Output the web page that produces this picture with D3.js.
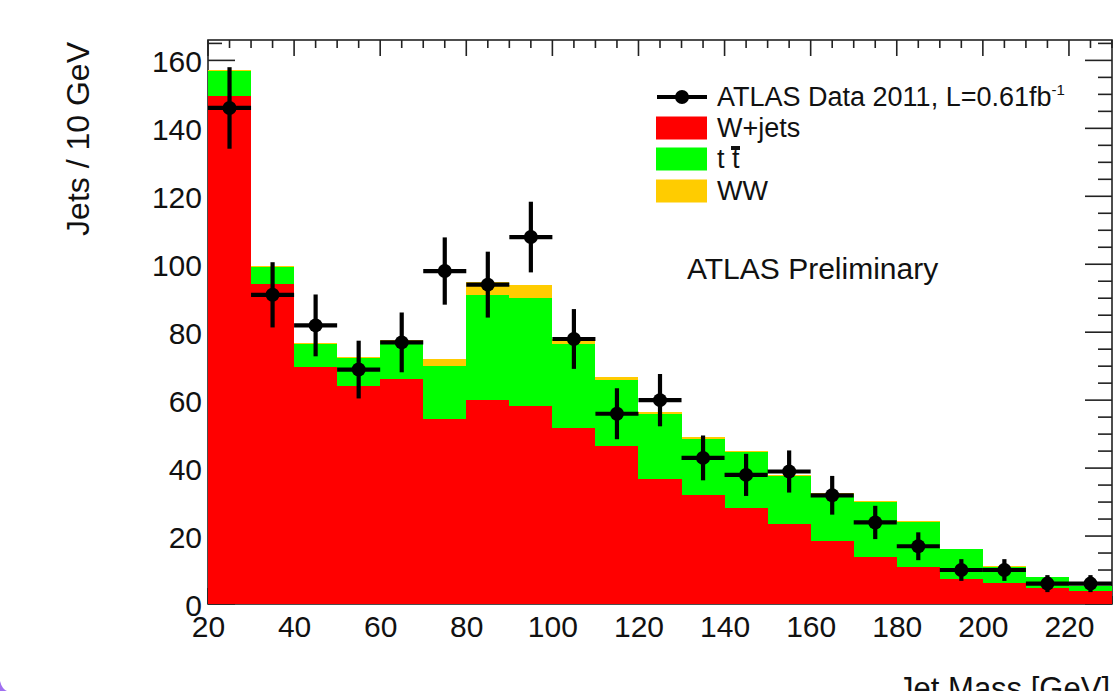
<!DOCTYPE html>
<html>
<head>
<meta charset="utf-8">
<script src="https://cdn.jsdelivr.net/npm/d3@7"></script>
<style>
  body { margin: 0; background: #fff; }
  text { font-family: "Liberation Sans", Arial, Helvetica, sans-serif; fill: #111; }
</style>
</head>
<body>
<div class="chart"></div>
<script>
// bin low edges (GeV), 10 GeV wide
var bins = [20, 30, 40, 50, 60, 70, 80, 90, 100, 110, 120, 130, 140, 150, 160, 170, 180, 190, 200, 210, 220];
var wjets = [149.4, 94.1, 69.8, 64.2, 66.3, 54.4, 59.9, 58.3, 51.7, 46.6, 36.8, 32.1, 28.3, 23.5, 18.4, 13.7, 11.0, 7.4, 6.3, 4.8, 3.9];
var ttbar = [7.5, 5.1, 6.7, 8.3, 11.1, 15.7, 31.0, 31.8, 24.8, 19.3, 19.1, 16.6, 16.3, 14.1, 14.0, 16.2, 13.2, 8.7, 4.7, 3.0, 1.4];
var ww = [0.4, 0.4, 0.2, 0.3, 0.2, 2.0, 3.8, 3.9, 1.4, 1.0, 0.5, 0.5, 0.4, 0.3, 0.2, 0.4, 0.1, 0.1, 0.1, 0.1, 0.1];
var dataVals = [146, 91, 82, 69, 77, 98, 94, 108, 78, 56, 60, 43, 38, 39, 32, 24, 17, 10, 10, 6, 6];
var dataErr = [12, 9.6, 9.1, 8.5, 8.8, 9.9, 9.7, 10.4, 8.8, 7.5, 7.7, 6.6, 6.2, 6.2, 5.7, 4.9, 4.1, 3.2, 3.2, 2.5, 2.5];
var xTicks = [20, 40, 60, 80, 100, 120, 140, 160, 180, 200, 220];
var yTicks = [0, 20, 40, 60, 80, 100, 120, 140, 160];
var keys = ["wjets", "ttbar", "ww"];
var colors = {wjets: "#ff0000", ttbar: "#00ff00", ww: "#ffcc00"};

var W = 1116, H = 691;
var padL = 208, padR = 1112, padT = 40, padB = 604;

var x = d3.scaleLinear().domain([20, 230]).range([padL, padR]);
var y = d3.scaleLinear().domain([0, 166]).range([padB, padT]);

var canvas = d3.select(".chart").append("svg")
    .attr("width", W)
    .attr("height", H);

canvas.append("rect").attr("width", W).attr("height", H).attr("fill", "#fff");

// frame + ticks (drawn under the histograms like ROOT does)
var axisColor = "#222";
var xMinor = d3.range(20, 231, 5);
var yMinor = d3.range(0, 166, 5);

var ticks = canvas.append("g").attr("stroke", axisColor).attr("stroke-width", 1.6);
ticks.append("rect")
    .attr("x", padL).attr("y", padT)
    .attr("width", padR - padL).attr("height", padB - padT)
    .attr("fill", "none");

ticks.selectAll(".tt").data(xMinor).enter().append("line")
    .attr("x1", function (d) { return x(d); })
    .attr("x2", function (d) { return x(d); })
    .attr("y1", padT)
    .attr("y2", function (d) { return padT + (d % 20 == 0 ? 16 : 8); });
ticks.selectAll(".tb").data(xMinor).enter().append("line")
    .attr("x1", function (d) { return x(d); })
    .attr("x2", function (d) { return x(d); })
    .attr("y1", padB)
    .attr("y2", function (d) { return padB - (d % 20 == 0 ? 16 : 8); });
ticks.selectAll(".tl").data(yMinor).enter().append("line")
    .attr("y1", function (d) { return y(d); })
    .attr("y2", function (d) { return y(d); })
    .attr("x1", padL)
    .attr("x2", function (d) { return padL + (d % 20 == 0 ? 27 : 14); });
ticks.selectAll(".tr").data(yMinor).enter().append("line")
    .attr("y1", function (d) { return y(d); })
    .attr("y2", function (d) { return y(d); })
    .attr("x1", padR)
    .attr("x2", function (d) { return padR - (d % 20 == 0 ? 27 : 14); });

// tick labels
var xAxis = canvas.append("g")
    .attr("transform", "translate(0," + padB + ")")
    .call(d3.axisBottom(x).tickValues(xTicks).tickSize(0).tickPadding(12));
var yAxis = canvas.append("g")
    .attr("transform", "translate(" + padL + ",0)")
    .call(d3.axisLeft(y).tickValues(yTicks).tickSize(0).tickPadding(6));
[xAxis, yAxis].forEach(function (g) {
    g.select(".domain").remove();
    g.selectAll("text").attr("font-size", 30).attr("font-family", null).attr("fill", "#111");
});
yAxis.selectAll("text").attr("dy", "0.38em");

// stacked histograms
var rows = bins.map(function (b, i) {
    return {bin: b, wjets: wjets[i], ttbar: ttbar[i], ww: ww[i]};
});
var stacked = d3.stack().keys(keys)(rows);

canvas.selectAll(".layer")
    .data(stacked)
    .enter()
    .append("g")
    .attr("fill", function (d) { return colors[d.key]; })
    .selectAll("rect")
    .data(function (d) { return d; })
    .enter()
    .append("rect")
    .attr("x", function (d) { return x(d.data.bin); })
    .attr("width", function (d) { return x(d.data.bin + 10) - x(d.data.bin); })
    .attr("y", function (d) { return y(d[1]); })
    .attr("height", function (d) { return y(d[0]) - y(d[1]); })
    .attr("shape-rendering", "crispEdges");

// data points with error bars
var pts = canvas.append("g").attr("stroke", "#000").attr("stroke-width", 4.2);
pts.selectAll(".h").data(bins).enter().append("line")
    .attr("x1", function (d) { return x(d); })
    .attr("x2", function (d) { return x(d + 10); })
    .attr("y1", function (d, i) { return y(dataVals[i]); })
    .attr("y2", function (d, i) { return y(dataVals[i]); });
pts.selectAll(".v").data(bins).enter().append("line")
    .attr("x1", function (d) { return x(d + 5); })
    .attr("x2", function (d) { return x(d + 5); })
    .attr("y1", function (d, i) { return y(dataVals[i] + dataErr[i]); })
    .attr("y2", function (d, i) { return y(dataVals[i] - dataErr[i]); });
canvas.selectAll(".pt").data(bins).enter().append("circle")
    .attr("cx", function (d) { return x(d + 5); })
    .attr("cy", function (d, i) { return y(dataVals[i]); })
    .attr("r", 7)
    .attr("fill", "#000");

// legend
var lg = canvas.append("g").attr("font-size", 27);
lg.append("line").attr("x1", 657).attr("x2", 707).attr("y1", 97).attr("y2", 97)
    .attr("stroke", "#000").attr("stroke-width", 4.2);
lg.append("circle").attr("cx", 682).attr("cy", 97).attr("r", 7).attr("fill", "#000");
var t0 = lg.append("text").attr("x", 717).attr("y", 106).text("ATLAS Data 2011, L=0.61fb");
t0.append("tspan").attr("font-size", 15).attr("dy", -11).text("-1");

var lgItems = [["wjets", "W+jets", 128], ["ttbar", "t t", 159], ["ww", "WW", 191]];
lg.selectAll(".box").data(lgItems).enter().append("rect")
    .attr("x", 656).attr("width", 51)
    .attr("y", function (d) { return d[2] - 11.5; })
    .attr("height", 23)
    .attr("fill", function (d) { return colors[d[0]]; });
lg.selectAll(".lab").data(lgItems).enter().append("text")
    .attr("x", 717)
    .attr("y", function (d) { return d[2] + 9; })
    .text(function (d) { return d[1]; });
// bar over the second t
lg.append("rect").attr("x", 731).attr("y", 146).attr("width", 9).attr("height", 4).attr("fill", "#111");

canvas.append("text").attr("x", 687).attr("y", 279).attr("font-size", 30).text("ATLAS Preliminary");

// axis titles
canvas.append("text")
    .attr("transform", "translate(89,42) rotate(-90)")
    .attr("text-anchor", "end")
    .attr("font-size", 32)
    .text("Jets / 10 GeV");
canvas.append("text")
    .attr("x", 1110).attr("y", 699)
    .attr("text-anchor", "end")
    .attr("font-size", 31)
    .text("Jet Mass [GeV]");

// slide border corner
canvas.append("path").attr("d", "M0,681 Q2,689 7,691 L0,691 Z").attr("fill", "#a070f0");
</script>
</body>
</html>
